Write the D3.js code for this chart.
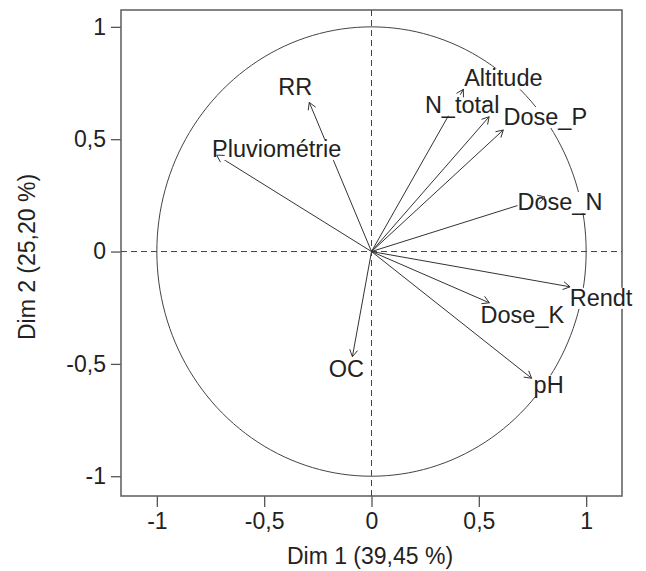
<!DOCTYPE html>
<html>
<head>
<meta charset="utf-8">
<script src="https://cdn.jsdelivr.net/npm/d3@7"></script>
<style>
  html, body { margin: 0; padding: 0; background: #fff; }
  svg { display: block; font-family: "Liberation Sans", Arial, Helvetica, sans-serif; }
</style>
</head>
<body>
<svg id="chart" width="646" height="571"></svg>
<script>
// Variable factor map: correlation circle of the first two principal dimensions
const variables = ["RR", "Pluviométrie", "Altitude", "N_total", "Dose_P", "Dose_N", "Rendt", "Dose_K", "pH", "OC"];
const dim1 = [-0.290, -0.721, 0.428, 0.548, 0.614, 0.808, 0.925, 0.549, 0.746, -0.089];
const dim2 = [0.664, 0.429, 0.722, 0.600, 0.541, 0.243, -0.157, -0.228, -0.564, -0.468];

const tickValues = [-1, -0.5, 0, 0.5, 1];
const tickLabels = ["-1", "-0,5", "0", "0,5", "1"];
const xTitle = "Dim 1 (39,45 %)";
const yTitle = "Dim 2 (25,20 %)";

// label placement relative to each arrow tip (pixels)
const labelNudge = {
  "RR": [-14, -7], "Pluviométrie": [60, 2], "Altitude": [40, -3], "N_total": [-27, -4],
  "Dose_P": [42, -5], "Dose_N": [15, 13], "Rendt": [31, 19], "Dose_K": [33, 20],
  "pH": [17, 15], "OC": [-6, 20]
};

const box = { left: 121, right: 622, top: 10, bottom: 496 };
const svg = d3.select("#chart");

const x = d3.scaleLinear().domain([-1.167, 1.167]).range([box.left, box.right]);
const y = d3.scaleLinear().domain([-1.088, 1.075]).range([box.bottom, box.top]);

const ink = "#222";
const fmt = v => tickLabels[tickValues.indexOf(v)];

// axes
const xAxis = svg.append("g")
  .attr("transform", `translate(0,${box.bottom})`)
  .call(d3.axisBottom(x).tickValues(tickValues).tickFormat(fmt).tickSize(11).tickSizeOuter(0).tickPadding(6));
const yAxis = svg.append("g")
  .attr("transform", `translate(${box.left},0)`)
  .call(d3.axisLeft(y).tickValues(tickValues).tickFormat(fmt).tickSize(10).tickSizeOuter(0).tickPadding(5));
[xAxis, yAxis].forEach(g => {
  g.select(".domain").remove();
  g.selectAll(".tick line").attr("stroke", "#555").attr("stroke-width", 1.3);
  g.selectAll(".tick text").attr("fill", ink).style("font-size", "23px");
});

// plot frame
svg.append("rect")
  .attr("x", box.left).attr("y", box.top)
  .attr("width", box.right - box.left).attr("height", box.bottom - box.top)
  .attr("fill", "none").attr("stroke", "#666").attr("stroke-width", 1.6);

// dashed reference lines through the origin
svg.append("line")
  .attr("x1", box.left).attr("x2", box.right).attr("y1", y(0)).attr("y2", y(0))
  .attr("stroke", "#444").attr("stroke-width", 1).attr("stroke-dasharray", "6,4");
svg.append("line")
  .attr("x1", x(0)).attr("x2", x(0)).attr("y1", box.top).attr("y2", box.bottom)
  .attr("stroke", "#444").attr("stroke-width", 1).attr("stroke-dasharray", "6,4");

// unit circle
const angles = d3.range(0, 361, 2).map(a => a * Math.PI / 180);
svg.append("path")
  .datum(angles)
  .attr("d", d3.line().x(a => x(Math.cos(a))).y(a => y(Math.sin(a))))
  .attr("fill", "none").attr("stroke", "#444").attr("stroke-width", 1);

const data = variables.map((name, i) => ({ name, d1: dim1[i], d2: dim2[i] }));

// arrow shafts
svg.append("g").selectAll("line").data(data).join("line")
  .attr("x1", x(0)).attr("y1", y(0))
  .attr("x2", d => x(d.d1)).attr("y2", d => y(d.d2))
  .attr("stroke", "#333").attr("stroke-width", 1);

// labels with white backing
const labels = svg.append("g").selectAll("g").data(data).join("g");
labels.append("text")
  .attr("x", d => x(d.d1) + labelNudge[d.name][0])
  .attr("y", d => y(d.d2) + labelNudge[d.name][1])
  .attr("text-anchor", "middle")
  .attr("fill", ink)
  .style("font-size", "23.5px")
  .text(d => d.name);
labels.each(function () {
  const g = d3.select(this);
  const bb = g.select("text").node().getBBox();
  g.insert("rect", "text")
    .attr("x", bb.x).attr("y", bb.y + 3)
    .attr("width", bb.width).attr("height", bb.height - 5)
    .attr("fill", "#fff");
});

// open arrow heads
const headLen = 8, headAng = Math.PI / 6;
svg.append("g").selectAll("path").data(data).join("path")
  .attr("d", d => {
    const tx = x(d.d1), ty = y(d.d2);
    const th = Math.atan2(ty - y(0), tx - x(0));
    const p1 = [tx - headLen * Math.cos(th - headAng), ty - headLen * Math.sin(th - headAng)];
    const p2 = [tx - headLen * Math.cos(th + headAng), ty - headLen * Math.sin(th + headAng)];
    return `M${p1}L${tx},${ty}L${p2}`;
  })
  .attr("fill", "none").attr("stroke", "#333").attr("stroke-width", 1);

// axis titles
svg.append("text")
  .attr("x", 370).attr("y", 564)
  .attr("text-anchor", "middle").attr("fill", ink).style("font-size", "23px")
  .text(xTitle);
svg.append("text")
  .attr("transform", "translate(35,257) rotate(-90)")
  .attr("text-anchor", "middle").attr("fill", ink).style("font-size", "23px")
  .text(yTitle);
</script>
</body>
</html>
